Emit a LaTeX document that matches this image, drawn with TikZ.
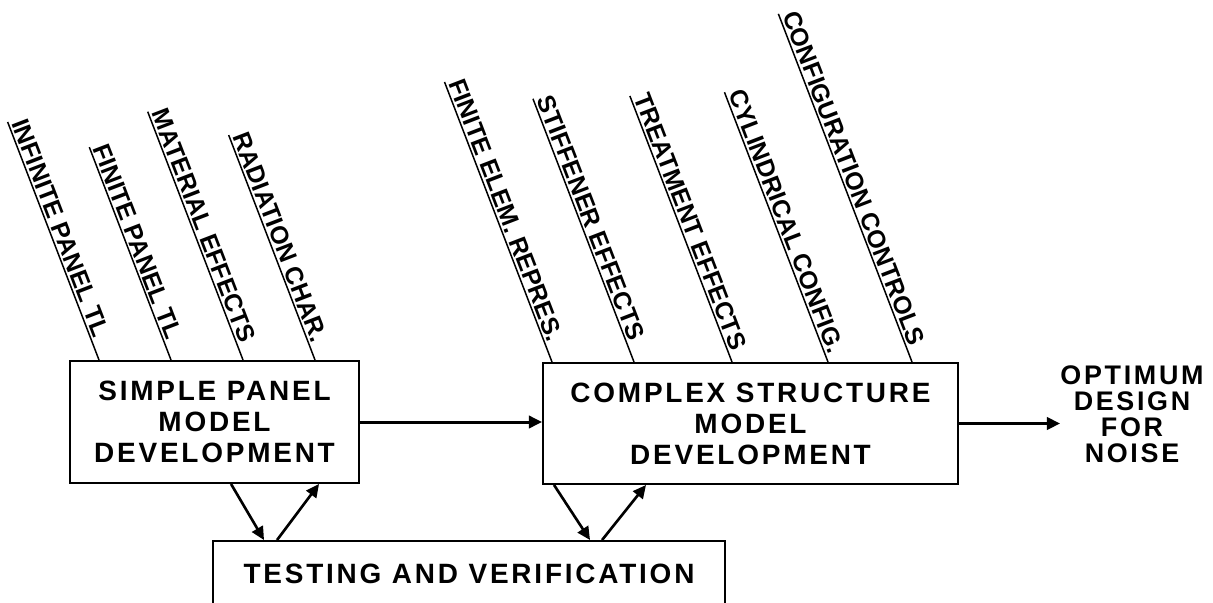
\documentclass[tikz,border=0pt]{standalone}
\usepackage{fontspec}
\setmainfont{Liberation Sans}[LetterSpace=10]
\newfontfamily\causefont{Liberation Sans}
\usetikzlibrary{calc,arrows.meta}

\begin{document}
\begin{tikzpicture}[scale=0.2,
  blockbox/.style={draw, line width=1.1pt, align=center, font=\fontsize{15.9}{17.6}\selectfont\bfseries},
  bone/.style={line width=0.85pt},
  cause/.style={rotate=-69, anchor=south west, inner xsep=1pt, inner ysep=1.2pt, font=\causefont\fontsize{14.2}{15}\selectfont\bfseries},
  flow/.style={line width=1.7pt, -{Triangle[length=7.5pt,width=7pt]}},
  feedback/.style={line width=1.5pt, -{Triangle[length=7.5pt,width=7pt]}}]
\tikzstyle{every node}+=[inner sep=0pt]
\useasboundingbox (0,0) rectangle (121.3,-60.2);
\clip (0,0) rectangle (121.3,-60.2);

\node[blockbox, minimum width=5.78cm, minimum height=2.44cm] (simple) at (21.45,-42.2) {SIMPLE PANEL\\MODEL\\DEVELOPMENT};
\node[blockbox, minimum width=8.3cm, minimum height=2.42cm] (complex) at (75.05,-42.35) {COMPLEX STRUCTURE\\MODEL\\DEVELOPMENT};
\node[blockbox, minimum width=10.24cm, minimum height=1.3cm] (testing) at (46.9,-57.35) {TESTING AND VERIFICATION};
\node[align=center, font=\fontsize{15.3}{14.8}\selectfont\bfseries] (optimum) at (113.2,-41.4) {OPTIMUM\\DESIGN\\FOR\\NOISE};

\foreach \dx/\len/\txt in {3.0/25.5/INFINITE PANEL TL, 10.2/22.8/FINITE PANEL TL, 17.4/26.6/MATERIAL EFFECTS, 24.6/24.1/RADIATION CHAR.}
  \draw[bone] ($(simple.north west)+(\dx,0)$) -- ++(111:\len) node[cause] {\txt};
\foreach \dx/\len/\txt in {1.0/30.0/FINITE ELEM. REPRES., 9.2/28.2/STIFFENER EFFECTS, 19.0/28.5/TREATMENT EFFECTS, 28.6/28.9/CYLINDRICAL CONFIG., 37.0/37.3/CONFIGURATION CONTROLS}
  \draw[bone] ($(complex.north west)+(\dx,0)$) -- ++(111:\len) node[cause] {\txt};

\draw[flow] (simple.east) -- (simple.east -| complex.west);
\draw[flow] (complex.east) -- (complex.east -| optimum.west);

\draw[feedback] ($(simple.south west)+(16.2,0)$) -- ($(testing.north west)+(5.2,0)$);
\draw[feedback] ($(testing.north west)+(6.5,0)$) -- ($(simple.south west)+(25.0,0)$);
\draw[feedback] ($(complex.south west)+(1.2,0)$) -- ($(testing.north west)+(37.8,0)$);
\draw[feedback] ($(testing.north west)+(39.0,0)$) -- ($(complex.south west)+(10.4,0)$);
\end{tikzpicture}
\end{document}
